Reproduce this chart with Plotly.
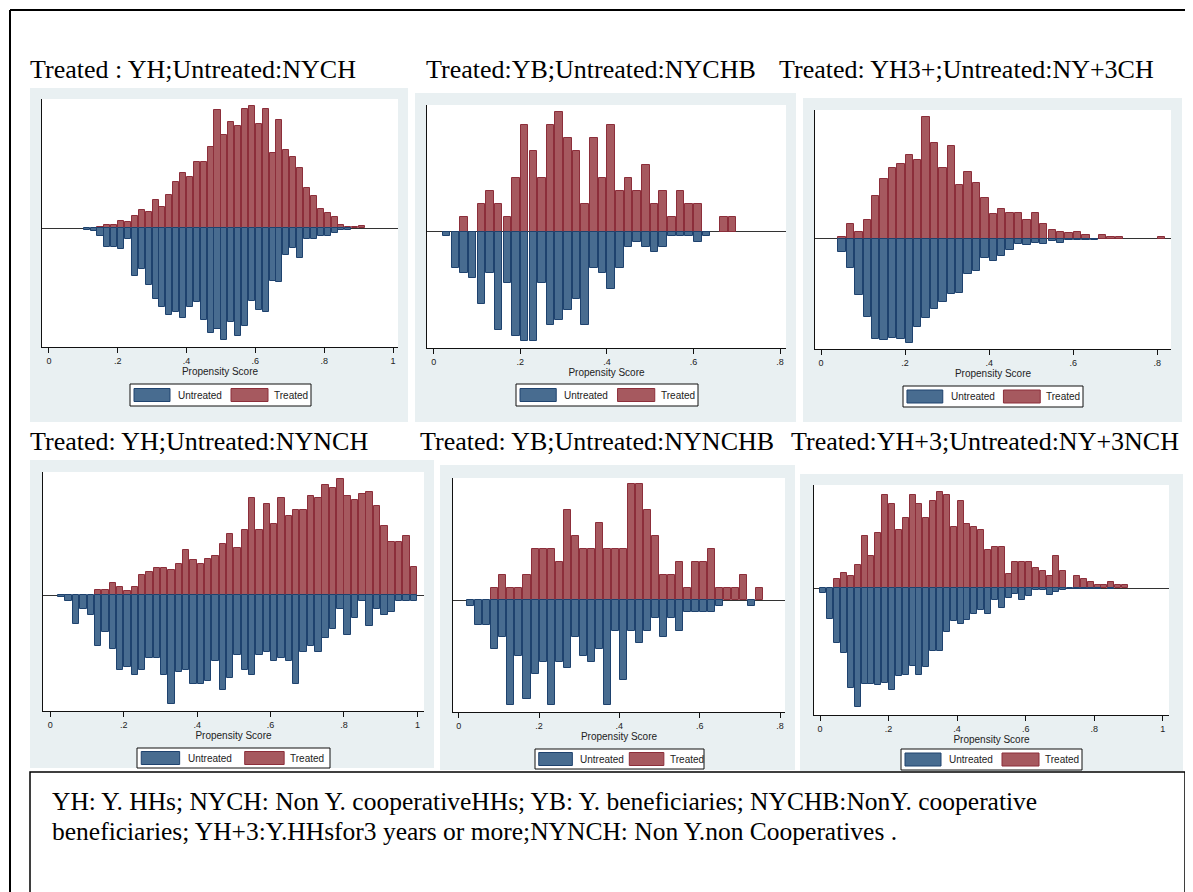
import plotly.graph_objects as go

W, H = 1193, 892

# ---------------- DATA (bar heights, arbitrary units) -------------
p1_bins = [0.11, 0.13, 0.15, 0.17, 0.19, 0.21, 0.23, 0.25, 0.27, 0.29, 0.31, 0.33, 0.35, 0.37,
           0.39, 0.41, 0.43, 0.45, 0.47, 0.49, 0.51, 0.53, 0.55, 0.57, 0.59, 0.61, 0.63, 0.65,
           0.67, 0.69, 0.71, 0.73, 0.75, 0.77, 0.79, 0.81, 0.83, 0.85, 0.87, 0.89, 0.91]
p1_treated = [0, 0, 4, 10, 10, 21, 18, 38, 54, 49, 85, 65, 100, 139, 167, 155, 198, 198, 244, 354,
              279, 318, 307, 357, 366, 311, 357, 225, 325, 233, 212, 181, 120, 96, 58, 45, 33, 10,
              4, 4, 7]
p1_untreated = [6, 9, 23, 55, 55, 63, 33, 143, 123, 168, 210, 234, 258, 250, 267, 234, 219, 275,
                313, 301, 334, 279, 321, 292, 218, 243, 250, 159, 162, 81, 60, 90, 33, 33, 22, 22,
                13, 5, 5, 0, 0]

p2_bins = [0.03, 0.05, 0.07, 0.09, 0.11, 0.13, 0.15, 0.17, 0.19, 0.21, 0.23, 0.25, 0.27, 0.29,
           0.31, 0.33, 0.35, 0.37, 0.39, 0.41, 0.43, 0.45, 0.47, 0.49, 0.51, 0.53, 0.55, 0.57,
           0.59, 0.61, 0.63, 0.65, 0.67, 0.69]
p2_treated = [0, 0, 42, 0, 81, 121, 81, 42, 160, 319, 240, 160, 319, 359, 279, 240, 81, 279, 160,
              319, 121, 160, 121, 200, 81, 121, 42, 121, 81, 81, 0, 0, 42, 42]
p2_untreated = [14, 108, 124, 139, 218, 124, 296, 155, 312, 328, 328, 155, 281, 265, 234, 203, 281,
                108, 124, 171, 108, 45, 30, 45, 62, 45, 14, 14, 14, 30, 14, 0, 0, 0]

p3_bins = [0.05, 0.07, 0.09, 0.11, 0.13, 0.15, 0.17, 0.19, 0.21, 0.23, 0.25, 0.27, 0.29, 0.31,
           0.33, 0.35, 0.37, 0.39, 0.41, 0.43, 0.45, 0.47, 0.49, 0.51, 0.53, 0.55, 0.57, 0.59,
           0.61, 0.63, 0.65, 0.67, 0.69, 0.71, 0.73, 0.75, 0.77, 0.79, 0.81]
p3_treated = [7, 45, 22, 55, 128, 178, 212, 223, 251, 235, 364, 286, 212, 279, 162, 201, 168, 123,
              73, 90, 78, 78, 55, 78, 45, 28, 22, 17, 22, 11, 0, 11, 6, 6, 0, 0, 0, 0, 6]
p3_untreated = [38, 87, 169, 234, 301, 304, 296, 300, 312, 263, 236, 211, 188, 166, 161, 105, 95,
                57, 65, 52, 33, 16, 19, 11, 14, 7, 11, 3, 3, 2, 2, 0, 0, 0, 0, 0, 0, 0, 0]

p4_bins = [0.03, 0.05, 0.07, 0.09, 0.11, 0.13, 0.15, 0.17, 0.19, 0.21, 0.23, 0.25, 0.27, 0.29,
           0.31, 0.33, 0.35, 0.37, 0.39, 0.41, 0.43, 0.45, 0.47, 0.49, 0.51, 0.53, 0.55, 0.57,
           0.59, 0.61, 0.63, 0.65, 0.67, 0.69, 0.71, 0.73, 0.75, 0.77, 0.79, 0.81, 0.83, 0.85,
           0.87, 0.89, 0.91, 0.93, 0.95, 0.97, 0.99]
p4_treated = [0, 0, 0, 0, 0, 14, 14, 37, 25, 13, 25, 61, 68, 80, 80, 74, 92, 134, 105, 92, 109,
              116, 153, 184, 140, 196, 292, 196, 274, 213, 292, 237, 256, 256, 298, 292, 329, 322,
              347, 298, 286, 304, 310, 268, 207, 159, 159, 176, 85]
p4_untreated = [7, 17, 86, 43, 60, 154, 111, 163, 224, 216, 241, 224, 189, 189, 241, 327, 231, 224,
                268, 268, 258, 198, 284, 249, 181, 224, 241, 181, 172, 198, 189, 198, 268, 172,
                154, 172, 129, 103, 43, 120, 68, 17, 94, 43, 60, 51, 17, 17, 17]

p5_bins = [0.03, 0.05, 0.07, 0.09, 0.11, 0.13, 0.15, 0.17, 0.19, 0.21, 0.23, 0.25, 0.27, 0.29,
           0.31, 0.33, 0.35, 0.37, 0.39, 0.41, 0.43, 0.45, 0.47, 0.49, 0.51, 0.53, 0.55, 0.57,
           0.59, 0.61, 0.63, 0.65, 0.67, 0.69, 0.71, 0.73, 0.75]
p5_treated = [0, 0, 0, 38, 77, 38, 38, 77, 154, 154, 154, 116, 270, 193, 154, 154, 232, 154, 154,
              154, 348, 348, 270, 193, 77, 77, 116, 38, 116, 116, 154, 38, 38, 38, 77, 0, 38]
p5_untreated = [18, 73, 73, 147, 110, 315, 166, 296, 221, 184, 315, 184, 203, 110, 166, 184, 147,
                315, 91, 240, 91, 128, 91, 54, 110, 54, 91, 36, 36, 36, 36, 18, 0, 0, 0, 18, 0]

p6_bins = [0.01, 0.03, 0.05, 0.07, 0.09, 0.11, 0.13, 0.15, 0.17, 0.19, 0.21, 0.23, 0.25, 0.27,
           0.29, 0.31, 0.33, 0.35, 0.37, 0.39, 0.41, 0.43, 0.45, 0.47, 0.49, 0.51, 0.53, 0.55,
           0.57, 0.59, 0.61, 0.63, 0.65, 0.67, 0.69, 0.71, 0.73, 0.75, 0.77, 0.79, 0.81, 0.83,
           0.85, 0.87, 0.89]
p6_treated = [0, 0, 28, 45, 36, 70, 157, 96, 166, 279, 254, 175, 210, 279, 254, 210, 262, 288, 279,
              183, 262, 192, 183, 175, 114, 123, 123, 44, 79, 79, 79, 62, 53, 36, 96, 53, 0, 36,
              28, 18, 9, 9, 18, 9, 9]
p6_untreated = [13, 92, 163, 195, 299, 357, 288, 288, 291, 283, 304, 264, 261, 234, 261, 237, 187,
                189, 132, 99, 108, 96, 76, 66, 76, 36, 58, 28, 16, 36, 22, 5, 5, 21, 12, 5, 2, 3,
                2, 2, 1, 0, 2, 0, 0]

titles = ["Treated : YH;Untreated:NYCH", "Treated:YB;Untreated:NYCHB",
          "Treated: YH3+;Untreated:NY+3CH", "Treated: YH;Untreated:NYNCH",
          "Treated: YB;Untreated:NYNCHB", "Treated:YH+3;Untreated:NY+3NCH"]
ticks_to_1 = [0, 0.2, 0.4, 0.6, 0.8, 1.0]
ticks_to_1_text = ["0", ".2", ".4", ".6", ".8", "1"]
ticks_to_08 = [0, 0.2, 0.4, 0.6, 0.8]
ticks_to_08_text = ["0", ".2", ".4", ".6", ".8"]
x_title = "Propensity Score"
legend_labels = ["Untreated", "Treated"]
note_lines = ["YH: Y. HHs; NYCH: Non Y. cooperativeHHs; YB: Y. beneficiaries; NYCHB:NonY. cooperative",
              "beneficiaries; YH+3:Y.HHsfor3 years or more;NYNCH: Non Y.non Cooperatives ."]

# ---------------- LAYOUT GEOMETRY (page pixels) -------------
panels = [
    dict(bins=p1_bins, tr=p1_treated, un=p1_untreated, plot=(42, 398, 99, 347),
         xr=(-0.020, 1.0145), yr=(-355, 387), gray=(30, 408, 88, 422), leg=(130, 311, 384, 406),
         title=(28, 70), ticks=(ticks_to_1, ticks_to_1_text)),
    dict(bins=p2_bins, tr=p2_treated, un=p2_untreated, plot=(427, 786, 105, 348),
         xr=(-0.0155, 0.8137), yr=(-349, 379), gray=(415, 796, 93, 422), leg=(516, 698, 384, 406),
         title=(424, 70), ticks=(ticks_to_08, ticks_to_08_text)),
    dict(bins=p3_bins, tr=p3_treated, un=p3_untreated, plot=(815, 1171, 110, 349),
         xr=(-0.0143, 0.8326), yr=(-330, 386), gray=(803, 1182, 98, 422), leg=(903, 1083, 386, 407),
         title=(777, 70), ticks=(ticks_to_08, ticks_to_08_text)),
    dict(bins=p4_bins, tr=p4_treated, un=p4_untreated, plot=(43, 424, 472, 711),
         xr=(-0.020, 1.018), yr=(-348, 369), gray=(30, 434, 460, 768), leg=(137, 330, 748, 768),
         title=(28, 442), ticks=(ticks_to_1, ticks_to_1_text)),
    dict(bins=p5_bins, tr=p5_treated, un=p5_untreated, plot=(453, 785, 478, 712),
         xr=(-0.0142, 0.8124), yr=(-335, 367), gray=(440, 795, 465, 770), leg=(535, 704, 749, 769),
         title=(418, 442), ticks=(ticks_to_08, ticks_to_08_text)),
    dict(bins=p6_bins, tr=p6_treated, un=p6_untreated, plot=(814, 1169, 485, 715),
         xr=(-0.0175, 1.0183), yr=(-380, 310), gray=(800, 1183, 474, 771), leg=(901, 1082, 749, 770),
         title=(789, 442), ticks=(ticks_to_1, ticks_to_1_text)),
]

RED_FILL, RED_LINE = "rgb(166,89,95)", "rgb(140,46,58)"
BLUE_FILL, BLUE_LINE = "rgb(72,108,144)", "rgb(30,66,110)"
GRAY_BG = "rgb(233,240,242)"
SANS = "Liberation Sans, Arial, sans-serif"
SERIF = "Liberation Serif, Times New Roman, serif"
OFF = 8  # the page body adds an 8px margin around the figure


def fx(px):
    return (px - OFF) / W


def fy(py):
    return 1 - (py - OFF) / H


def nz(values, sign):
    # empty bins are left out (None) so no zero-height outline is drawn
    return [sign * v if v else None for v in values]


fig = go.Figure()
shapes = []
annotations = []
layout_axes = {}

for i, p in enumerate(panels, start=1):
    sfx = "" if i == 1 else str(i)
    xa, ya = "x" + sfx, "y" + sfx
    L, R, T, B = p["plot"]

    fig.add_trace(go.Bar(x=p["bins"], y=nz(p["tr"], 1), width=0.0175, xaxis=xa, yaxis=ya,
                         marker=dict(color=RED_FILL, line=dict(color=RED_LINE, width=1)),
                         name="Treated", showlegend=False))
    fig.add_trace(go.Bar(x=p["bins"], y=nz(p["un"], -1), width=0.0175, xaxis=xa, yaxis=ya,
                         marker=dict(color=BLUE_FILL, line=dict(color=BLUE_LINE, width=1)),
                         name="Untreated", showlegend=False))

    layout_axes["xaxis" + sfx] = dict(
        domain=[fx(L), fx(R)], anchor=ya, range=list(p["xr"]),
        tickvals=p["ticks"][0], ticktext=p["ticks"][1], ticks="outside", ticklen=5,
        tickcolor="#111", tickwidth=1, showline=True, linecolor="#111", linewidth=1,
        showgrid=False, zeroline=False, tickfont=dict(family=SANS, size=9, color="#222"),
        title=dict(text=x_title, font=dict(family=SANS, size=10, color="#222"), standoff=1),
        fixedrange=True)
    layout_axes["yaxis" + sfx] = dict(
        domain=[fy(B), fy(T)], anchor=xa, range=list(p["yr"]), showticklabels=False,
        ticks="", showline=True, linecolor="#111", linewidth=1, showgrid=False,
        zeroline=True, zerolinecolor="#333", zerolinewidth=1, fixedrange=True)

    gl, gr, gt, gb = p["gray"]
    shapes.append(dict(type="rect", xref="paper", yref="paper", x0=fx(gl), x1=fx(gr),
                       y0=fy(gb), y1=fy(gt), fillcolor=GRAY_BG, line=dict(width=0), layer="below"))
    shapes.append(dict(type="rect", xref="paper", yref="paper", x0=fx(L), x1=fx(R),
                       y0=fy(B), y1=fy(T), fillcolor="white", line=dict(width=0), layer="below"))

    # legend box
    lb_l, lb_r, lb_t, lb_b = p["leg"]
    s = (lb_r - lb_l) / 181.0
    cy = (lb_t + lb_b) / 2
    kh = 6.5
    shapes.append(dict(type="rect", xref="paper", yref="paper", x0=fx(lb_l), x1=fx(lb_r),
                       y0=fy(lb_b), y1=fy(lb_t), fillcolor="white",
                       line=dict(color="#111", width=1), layer="above"))
    shapes.append(dict(type="rect", xref="paper", yref="paper", x0=fx(lb_l + 4 * s),
                       x1=fx(lb_l + 40 * s), y0=fy(cy + kh), y1=fy(cy - kh), fillcolor=BLUE_FILL,
                       line=dict(color=BLUE_LINE, width=1), layer="above"))
    shapes.append(dict(type="rect", xref="paper", yref="paper", x0=fx(lb_l + 101 * s),
                       x1=fx(lb_l + 138 * s), y0=fy(cy + kh), y1=fy(cy - kh), fillcolor=RED_FILL,
                       line=dict(color=RED_LINE, width=1), layer="above"))
    annotations.append(dict(text=legend_labels[0], x=fx(lb_l + 46 * s), y=fy(cy), xref="paper",
                            yref="paper", xanchor="left", yanchor="middle", showarrow=False,
                            font=dict(family=SANS, size=10, color="#222")))
    annotations.append(dict(text=legend_labels[1], x=fx(lb_l + 142 * s), y=fy(cy), xref="paper",
                            yref="paper", xanchor="left", yanchor="middle", showarrow=False,
                            font=dict(family=SANS, size=10, color="#222")))

    tx, ty = p["title"]
    annotations.append(dict(text=titles[i - 1], x=fx(tx), y=fy(ty), xref="paper", yref="paper",
                            xanchor="left", yanchor="middle", showarrow=False,
                            font=dict(family=SERIF, size=26, color="black")))

# outer border lines
shapes.append(dict(type="line", xref="paper", yref="paper", x0=fx(10), x1=1.0, y0=fy(10), y1=fy(10),
                   line=dict(color="black", width=2)))
shapes.append(dict(type="line", xref="paper", yref="paper", x0=fx(10), x1=fx(10), y0=fy(10), y1=0,
                   line=dict(color="black", width=2)))
# note box
shapes.append(dict(type="rect", xref="paper", yref="paper", x0=fx(30), x1=fx(1185), y0=fy(905),
                   y1=fy(772), fillcolor="white", line=dict(color="black", width=1.5)))
for line, yy in zip(note_lines, [801, 831]):
    annotations.append(dict(text=line, x=fx(50), y=fy(yy), xref="paper", yref="paper",
                            xanchor="left", yanchor="middle", showarrow=False,
                            font=dict(family=SERIF, size=25.5, color="black")))

fig.update_layout(width=W, height=H, margin=dict(l=0, r=0, t=0, b=0), autosize=False,
                  paper_bgcolor="white", plot_bgcolor="rgba(0,0,0,0)", barmode="overlay",
                  bargap=0, showlegend=False, shapes=shapes, annotations=annotations,
                  **layout_axes)

fig.write_html("out.html")
